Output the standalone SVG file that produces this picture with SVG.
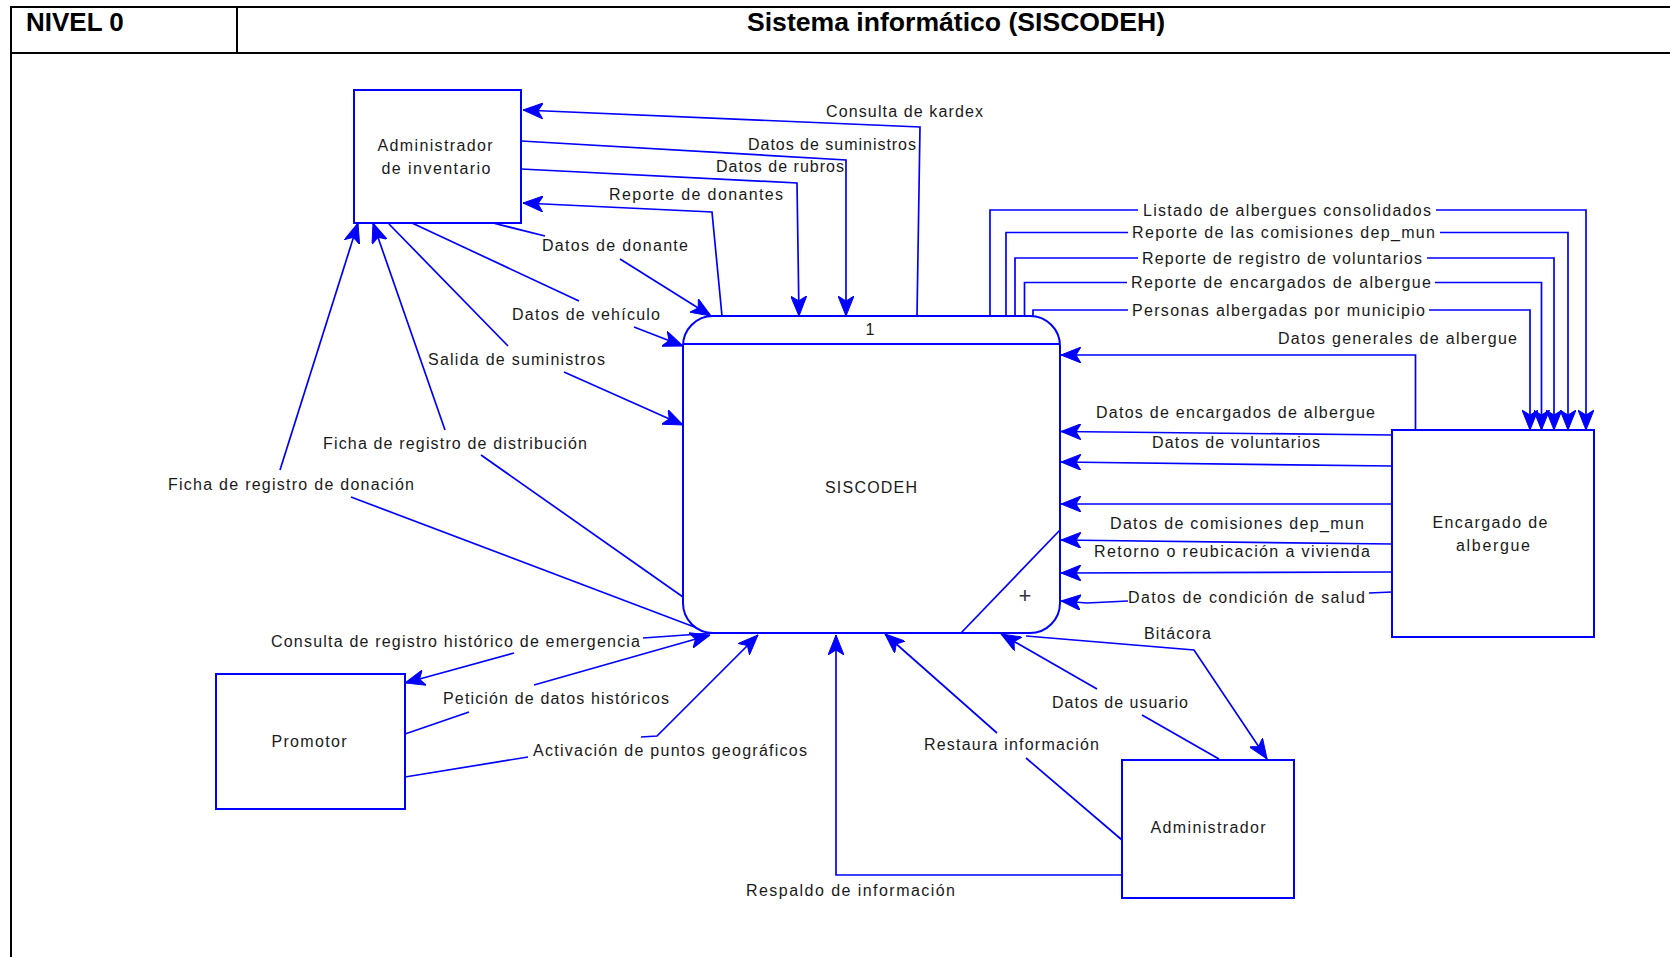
<svg xmlns="http://www.w3.org/2000/svg" width="1670" height="957" viewBox="0 0 1670 957">
<style>
.frame{stroke:#000;stroke-width:2;fill:none}
.hdr{font-family:"Liberation Sans",Arial,sans-serif;font-weight:bold;font-size:26px;fill:#000}
.box{fill:#fff;stroke:#0000ff;stroke-width:2}
.proc{fill:#fff;stroke:#0000ff;stroke-width:2}
.c{fill:none;stroke:#0000ff;stroke-width:1.7}
.ca{fill:none;stroke:#0000ff;stroke-width:1.7;marker-end:url(#ah)}
.t{font-family:"Liberation Sans",Arial,sans-serif;font-size:16px;fill:#1a1a1a}
.n{font-family:"Liberation Sans",Arial,sans-serif;font-size:16px;fill:#1a1a1a;text-anchor:middle}
</style>
<defs>
<marker id="ah" viewBox="0 0 20 16" markerWidth="20" markerHeight="16" refX="20" refY="8" orient="auto" markerUnits="userSpaceOnUse">
<path d="M0,0 L20,8 L0,16 L5,8 Z" fill="#0000ff" stroke="#0000ff" stroke-width="1" stroke-linejoin="miter"/>
</marker>
</defs>
<rect width="1670" height="957" fill="#fff"/>
<g id="header">
<line class="frame" x1="10" y1="7" x2="1670" y2="7"/>
<line class="frame" x1="10" y1="53" x2="1670" y2="53"/>
<line class="frame" x1="11" y1="6" x2="11" y2="957"/>
<line class="frame" x1="237" y1="7" x2="237" y2="53"/>
<text class="hdr" x="26" y="31">NIVEL 0</text>
<text class="hdr" x="956" y="31" text-anchor="middle" textLength="418" lengthAdjust="spacingAndGlyphs">Sistema informático (SISCODEH)</text>
</g>
<g id="connectors">
<polyline class="ca" points="917,316 920,127 523,110"/>
<polyline class="ca" points="521,141 846,160 846,316"/>
<polyline class="ca" points="521,169 797,183 799,316"/>
<polyline class="ca" points="722,316 712,212 523,203"/>
<polyline class="c" points="493,223 545,236"/>
<polyline class="ca" points="620,259 711,316"/>
<polyline class="c" points="412,223 579,301"/>
<polyline class="ca" points="634,327 683,346"/>
<polyline class="c" points="389,224 508,346"/>
<polyline class="ca" points="564,372 683,425"/>
<polyline class="c" points="683,597 481,455"/>
<polyline class="ca" points="445,430 373,223"/>
<polyline class="c" points="697,628 351,497"/>
<polyline class="ca" points="280,470 358,223"/>
<polyline class="c" points="714,633 643,638"/>
<polyline class="ca" points="514,653 405,683"/>
<polyline class="c" points="405,734 469,712"/>
<polyline class="ca" points="534,685 710,635"/>
<polyline class="c" points="405,777 528,757"/>
<polyline class="ca" points="641,737 657,736 758,635"/>
<polyline class="ca" points="1122,875 836,875 836,635"/>
<polyline class="c" points="1122,840 1026,758"/>
<polyline class="ca" points="997,733 885,634"/>
<polyline class="c" points="1219,759 1142,715"/>
<polyline class="ca" points="1097,689 1001,634"/>
<polyline class="ca" points="1026,636 1194,650 1267,759"/>
<polyline class="c" points="990,316 990,210 1138,210"/>
<polyline class="ca" points="1436,210 1586,210 1586,430"/>
<polyline class="c" points="1006,316 1006,232.5 1128,232.5"/>
<polyline class="ca" points="1440,232.5 1568,232.5 1568,430"/>
<polyline class="c" points="1015,316 1015,258 1138,258"/>
<polyline class="ca" points="1427,258 1554,258 1554,430"/>
<polyline class="c" points="1024.5,316 1024.5,282.5 1127,282.5"/>
<polyline class="ca" points="1435,282.5 1541.5,282.5 1541.5,430"/>
<polyline class="c" points="1033,318 1033,310 1128,310"/>
<polyline class="ca" points="1429,310 1530,310 1530,430"/>
<polyline class="ca" points="1415.5,430 1415.5,355 1061,355"/>
<polyline class="ca" points="1392,435 1061,431.5"/>
<polyline class="ca" points="1392,466 1061,462"/>
<polyline class="ca" points="1392,504 1061,504"/>
<polyline class="ca" points="1392,544 1061,540"/>
<polyline class="ca" points="1392,572 1061,573"/>
<polyline class="c" points="1392,592 1369,593"/>
<polyline class="ca" points="1128,601 1087,603 1061,601"/>
</g>
<g id="labels">
<text class="t" x="826" y="117" textLength="157" lengthAdjust="spacing">Consulta de kardex</text>
<text class="t" x="748" y="150" textLength="168" lengthAdjust="spacing">Datos de suministros</text>
<text class="t" x="716" y="172" textLength="128" lengthAdjust="spacing">Datos de rubros</text>
<text class="t" x="609" y="200" textLength="174" lengthAdjust="spacing">Reporte de donantes</text>
<text class="t" x="542" y="251" textLength="146" lengthAdjust="spacing">Datos de donante</text>
<text class="t" x="512" y="320" textLength="148" lengthAdjust="spacing">Datos de vehículo</text>
<text class="t" x="428" y="365" textLength="177" lengthAdjust="spacing">Salida de suministros</text>
<text class="t" x="323" y="449" textLength="264" lengthAdjust="spacing">Ficha de registro de distribución</text>
<text class="t" x="168" y="490" textLength="246" lengthAdjust="spacing">Ficha de registro de donación</text>
<text class="t" x="271" y="647" textLength="369" lengthAdjust="spacing">Consulta de registro histórico de emergencia</text>
<text class="t" x="443" y="704" textLength="226" lengthAdjust="spacing">Petición de datos históricos</text>
<text class="t" x="533" y="756" textLength="274" lengthAdjust="spacing">Activación de puntos geográficos</text>
<text class="t" x="746" y="896" textLength="209" lengthAdjust="spacing">Respaldo de información</text>
<text class="t" x="924" y="750" textLength="175" lengthAdjust="spacing">Restaura información</text>
<text class="t" x="1052" y="708" textLength="136" lengthAdjust="spacing">Datos de usuario</text>
<text class="t" x="1144" y="639" textLength="67" lengthAdjust="spacing">Bitácora</text>
<text class="t" x="1143" y="216" textLength="288" lengthAdjust="spacing">Listado de albergues consolidados</text>
<text class="t" x="1132" y="238" textLength="303" lengthAdjust="spacing">Reporte de las comisiones dep_mun</text>
<text class="t" x="1142" y="264" textLength="280" lengthAdjust="spacing">Reporte de registro de voluntarios</text>
<text class="t" x="1131" y="288" textLength="300" lengthAdjust="spacing">Reporte de encargados de albergue</text>
<text class="t" x="1132" y="316" textLength="293" lengthAdjust="spacing">Personas albergadas por municipio</text>
<text class="t" x="1278" y="344" textLength="239" lengthAdjust="spacing">Datos generales de albergue</text>
<text class="t" x="1096" y="418" textLength="279" lengthAdjust="spacing">Datos de encargados de albergue</text>
<text class="t" x="1152" y="448" textLength="168" lengthAdjust="spacing">Datos de voluntarios</text>
<text class="t" x="1110" y="529" textLength="254" lengthAdjust="spacing">Datos de comisiones dep_mun</text>
<text class="t" x="1094" y="557" textLength="276" lengthAdjust="spacing">Retorno o reubicación a vivienda</text>
<text class="t" x="1128" y="603" textLength="237" lengthAdjust="spacing">Datos de condición de salud</text>
</g>
<g id="node-admin-inventario">
<rect class="box" x="354" y="90" width="167" height="133"/>
<text class="n" x="435" y="151" textLength="115" lengthAdjust="spacing">Administrador</text>
<text class="n" x="436" y="174" textLength="109" lengthAdjust="spacing">de inventario</text>
</g>
<g id="node-siscodeh">
<rect class="proc" x="683" y="316" width="377" height="317" rx="30" ry="30"/>
<line x1="683" y1="344" x2="1060" y2="344" style="stroke:#0000ff;stroke-width:2"/>
<line class="c" x1="1060" y1="530" x2="961" y2="633"/>
<text class="n" x="870" y="335">1</text>
<text class="n" x="871" y="493" textLength="92" lengthAdjust="spacing">SISCODEH</text>
<text class="n" x="1025" y="603" style="font-size:22px;fill:#333">+</text>
</g>
<g id="node-encargado">
<rect class="box" x="1392" y="430" width="202" height="207"/>
<text class="n" x="1490" y="528" textLength="115" lengthAdjust="spacing">Encargado de</text>
<text class="n" x="1493" y="551" textLength="74" lengthAdjust="spacing">albergue</text>
</g>
<g id="node-promotor">
<rect class="box" x="216" y="674" width="189" height="135"/>
<text class="n" x="309" y="747" textLength="75" lengthAdjust="spacing">Promotor</text>
</g>
<g id="node-administrador">
<rect class="box" x="1122" y="760" width="172" height="138"/>
<text class="n" x="1208" y="833" textLength="115" lengthAdjust="spacing">Administrador</text>
</g>
</svg>
